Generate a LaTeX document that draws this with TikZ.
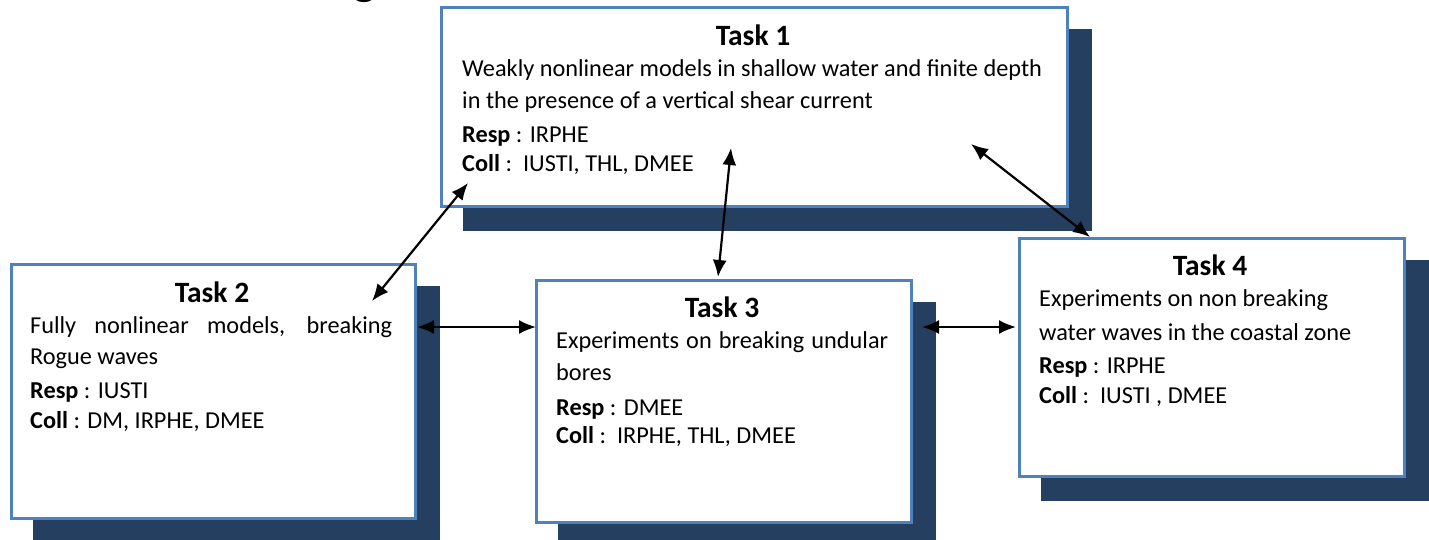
\documentclass[tikz,border=0pt]{standalone}
\usepackage{fontspec}
\setmainfont{Carlito}
\usetikzlibrary{arrows.meta,backgrounds,calc}
\definecolor{boxblue}{HTML}{4F81BD}
\definecolor{shadownavy}{HTML}{243F60}
\tikzset{
  taskbox/.style={draw=boxblue, line width=2.5pt, fill=white, anchor=north west, inner sep=0pt},
  boxshadow/.style={fill=shadownavy},
  ttl/.style={font=\fontsize{29.5}{33}\selectfont\bfseries, anchor=base, inner sep=0pt},
  txt/.style={font=\fontsize{24.3}{28}\selectfont, anchor=base west, inner sep=0pt},
  link/.style={line width=2.2pt, {Latex[length=17pt,width=14pt]}-{Latex[length=17pt,width=14pt]}},
}
\begin{document}
\begin{tikzpicture}[x=1pt,y=-1pt]
\useasboundingbox (0,0) rectangle (1429,539);
\clip (0,0) rectangle (1429,539);
% fragment of a cut-off heading
\node[font=\fontsize{48}{50}\selectfont\bfseries, anchor=base, inner sep=0pt] (frag) at (365,-6) {g};

% boxes
\node[taskbox, minimum width=626pt, minimum height=199pt] (t1) at (440,6) {};
\node[taskbox, minimum width=404pt, minimum height=254pt] (t2) at (10,263) {};
\node[taskbox, minimum width=375pt, minimum height=242pt] (t3) at (535,279) {};
\node[taskbox, minimum width=385pt, minimum height=238pt] (t4) at (1018,237) {};

\begin{pgfonlayer}{background}
  \foreach \b in {t1,t2,t3,t4}{
    \fill[boxshadow] ($(\b.north west)+(23,23)$) rectangle ($(\b.south east)+(23,23)$);
  }
\end{pgfonlayer}

% Task 1
\node[ttl] (t1title) at (753,45) {Task 1};
\node[txt] (t1l1) at (462,76) {Weakly nonlinear models in shallow water and finite depth};
\node[txt] (t1l2) at (462,108) {in the presence of a vertical shear current};
\node[txt] (t1resp) at (462,142) {\textbf{Resp} : IRPHE};
\node[txt] (t1coll) at (462,171) {\textbf{Coll} :\ \ IUSTI, THL, DMEE};

% Task 2
\node[ttl] (t2title) at (212,302) {Task 2};
\node[txt] (t2l1) at (30,333) {\makebox[362pt][s]{Fully nonlinear models, breaking}};
\node[txt] (t2l2) at (30,364) {Rogue waves};
\node[txt] (t2resp) at (30,398) {\textbf{Resp} : IUSTI};
\node[txt] (t2coll) at (30,428) {\textbf{Coll} : DM, IRPHE, DMEE};

% Task 3
\node[ttl] (t3title) at (722,317) {Task 3};
\node[txt] (t3l1) at (556,348) {\makebox[332pt][s]{Experiments on breaking undular}};
\node[txt] (t3l2) at (556,380) {bores};
\node[txt] (t3resp) at (556,415) {\textbf{Resp} : DMEE};
\node[txt] (t3coll) at (556,443) {\textbf{Coll} :\ \ IRPHE, THL, DMEE};

% Task 4
\node[ttl] (t4title) at (1210,275) {Task 4};
\node[txt] (t4l1) at (1039,306) {Experiments on non breaking};
\node[txt] (t4l2) at (1039,340) {water waves in the coastal zone};
\node[txt] (t4resp) at (1039,373) {\textbf{Resp} : IRPHE};
\node[txt] (t4coll) at (1039,403) {\textbf{Coll} :\ \ IUSTI , DMEE};

% connector ends
\coordinate (a1s) at (468,183);
\coordinate (a1e) at (372,301);
\coordinate (a2s) at (731,148);
\coordinate (a2e) at (718,277);
\coordinate (a3s) at (971,144);
\coordinate (a3e) at (1090,237);
\coordinate (a4s) at (417,327);
\coordinate (a4e) at (536,327);
\coordinate (a5s) at (922,327);
\coordinate (a5e) at (1016,327);

\draw[link] (a1s) -- (a1e);
\draw[link] (a2s) -- (a2e);
\draw[link] (a3s) -- (a3e);
\draw[link] (a4s) -- (a4e);
\draw[link] (a5s) -- (a5e);
\end{tikzpicture}
\end{document}
